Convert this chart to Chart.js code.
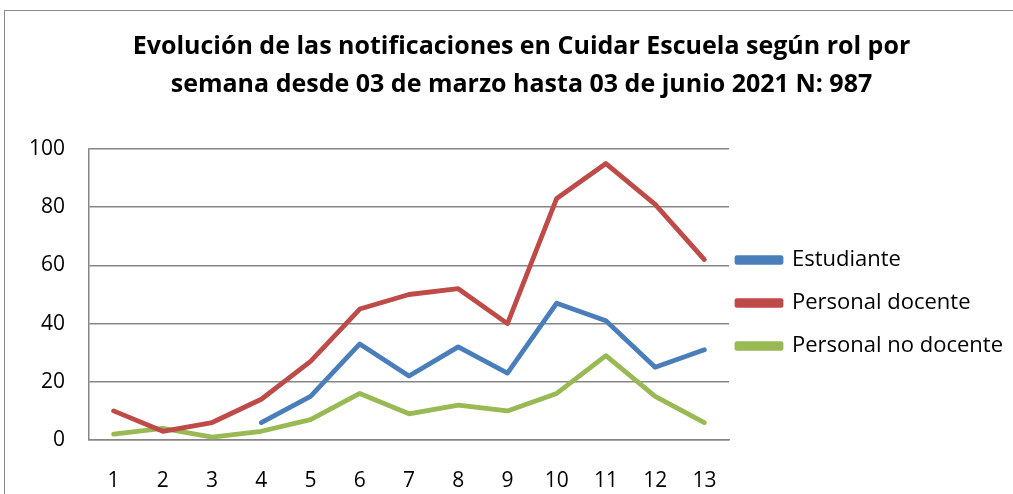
<!DOCTYPE html>
<html>
<head>
<meta charset="utf-8">
<script src="https://cdn.jsdelivr.net/npm/chart.js@4.4.0/dist/chart.umd.min.js"></script>
<style>
html,body{margin:0;padding:0;background:#fff;}
#wrap{position:relative;width:1013px;height:494px;overflow:hidden;}
#frame{position:absolute;left:4px;top:10px;width:1100px;height:600px;border:1.5px solid #8a8a8a;box-sizing:border-box;}
canvas{position:absolute;left:0;top:0;}
</style>
</head>
<body>
<div id="wrap">
<div id="frame"></div>
<canvas id="c" width="1013" height="494"></canvas>
</div>
<script>
const titleLines = ['Evolución de las notificaciones en Cuidar Escuela según rol por', 'semana desde 03 de marzo hasta 03 de junio 2021 N: 987'];
const weeks = ['1','2','3','4','5','6','7','8','9','10','11','12','13'];
const seriesNames = ['Estudiante', 'Personal docente', 'Personal no docente'];
const estudiante = [null, null, null, 6, 15, 33, 22, 32, 23, 47, 41, 25, 31];
const personalDocente = [10, 3, 6, 14, 27, 45, 50, 52, 40, 83, 95, 81, 62];
const personalNoDocente = [2, 4, 1, 3, 7, 16, 9, 12, 10, 16, 29, 15, 6];
const colors = ['#4A7EBB', '#BE4B48', '#98B954'];

const legendShift = {
  id: 'legendShift',
  beforeLayout(chart) {
    const lg = chart.legend;
    if (lg && !lg.__patched) {
      const f = lg.fit;
      lg.fit = function () { f.call(this); this.width = 284; };
      lg.__patched = true;
    }
  },
  afterLayout(chart) {
    const lg = chart.legend;
    if (lg) {
      lg.left = 716; lg.width = lg.right - lg.left;
      lg.top = 228; lg.height = lg.bottom - lg.top;
    }
  }
};

const mk = (label, data, color) => ({
  label, data,
  borderColor: color, backgroundColor: color,
  borderWidth: 4.8, pointRadius: 0, pointHoverRadius: 0,
  tension: 0, fill: false, spanGaps: false,
  borderCapStyle: 'round', borderJoinStyle: 'round'
});

new Chart(document.getElementById('c'), {
  type: 'line',
  data: {
    labels: weeks,
    datasets: [
      mk(seriesNames[0], estudiante, colors[0]),
      mk(seriesNames[1], personalDocente, colors[1]),
      mk(seriesNames[2], personalNoDocente, colors[2])
    ]
  },
  options: {
    responsive: false,
    animation: false,
    devicePixelRatio: 1,
    layout: { padding: { left: 30, right: 0, top: 0, bottom: 0 } },
    plugins: {
      title: {
        display: true,
        text: titleLines,
        color: '#000',
        font: { family: 'Open Sans', weight: 'bold', size: 25, lineHeight: 1.52 },
        padding: { top: 28, bottom: 45 }
      },
      legend: {
        position: 'right',
        align: 'start',
        labels: {
          color: '#000',
          font: { family: 'Open Sans', size: 22 },
          boxWidth: 44, boxHeight: 4.8,
          padding: 21
        }
      },
      tooltip: { enabled: false }
    },
    scales: {
      x: {
        offset: true,
        grid: { display: false, drawTicks: false },
        border: { display: true, color: '#868686', width: 1.5 },
        ticks: { color: '#000', font: { family: 'Open Sans', size: 21 }, padding: 28, maxRotation: 0 },
        afterFit(s) { s.height = 54; }
      },
      y: {
        min: 0, max: 100,
        ticks: { stepSize: 20, color: '#000', font: { family: 'Open Sans', size: 21 }, padding: 24 },
        grid: { color: '#868686', lineWidth: 1.5, drawTicks: false },
        border: { display: true, color: '#868686', width: 1.5 },
        afterFit(s) { s.width = 59; }
      }
    }
  },
  plugins: [legendShift]
});
</script>
</body>
</html>
